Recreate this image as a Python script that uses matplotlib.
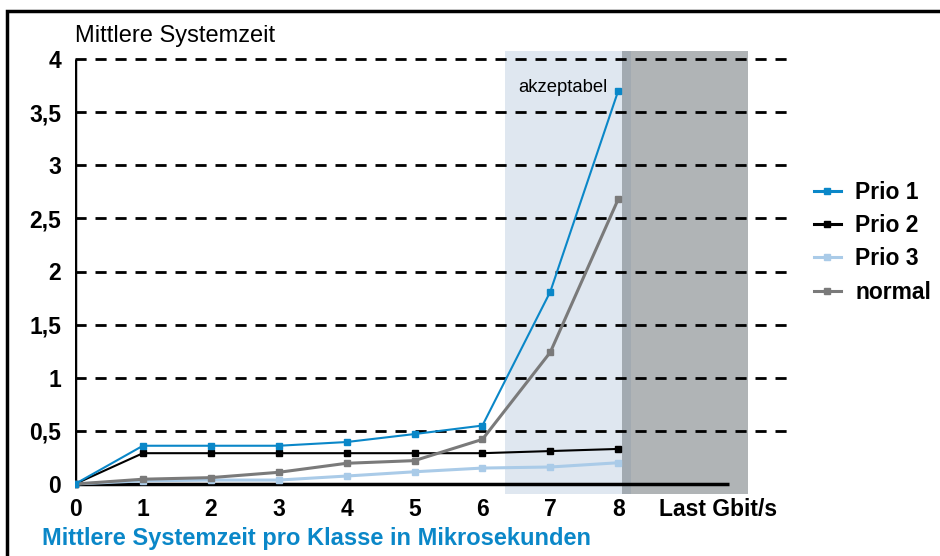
import numpy as np
import matplotlib
matplotlib.use('Agg')
import matplotlib.pyplot as plt
from matplotlib.patches import Rectangle
from matplotlib.lines import Line2D

plt.rcParams['font.family'] = ['Liberation Sans', 'DejaVu Sans']

# load in Gbit/s
last = [0, 1, 2, 3, 4, 5, 6, 7, 8]

# mean system time per class (microseconds)
prio1 = [0, 0.36, 0.36, 0.36, 0.395, 0.47, 0.55, 1.81, 3.70]
prio2 = [0, 0.29, 0.29, 0.29, 0.29, 0.29, 0.29, 0.31, 0.33]
prio3 = [0, 0.03, 0.037, 0.037, 0.075, 0.115, 0.15, 0.16, 0.20]
normal = [0, 0.045, 0.06, 0.11, 0.195, 0.22, 0.42, 1.24, 2.68]

series_names = ['Prio 1', 'Prio 2', 'Prio 3', 'normal']
series_colors = ['#0a87c8', '#000000', '#aacbe8', '#7a7a7a']

yticks = [0, 0.5, 1, 1.5, 2, 2.5, 3, 3.5, 4]
ytick_labels = ['0', '0,5', '1', '1,5', '2', '2,5', '3', '3,5', '4']

# shaded regions (x in Gbit/s)
ok_span = (6.33, 8.05)
bad_span = (8.05, 9.91)
edge_span = (8.05, 8.19)

W, H = 940, 556
fig = plt.figure(figsize=(W / 100, H / 100), dpi=100)

# axes: x=0 at px 75, 67.9 px per unit; y=0 at px 484, y=4 at px 59
x0, ppx = 75, 67.9
y0, y4 = 484, 59
xmax = 10.6
ymin, ymax = -0.12, 4.12
ppy = (y0 - y4) / 4
left = x0 / W
width = xmax * ppx / W
bottom = (H - y0 - (0 - ymin) * ppy) / H
height = (ymax - ymin) * ppy / H
ax = fig.add_axes([left, bottom, width, height])
ax.set_xlim(0, xmax)
ax.set_ylim(ymin, ymax)
for s in ax.spines.values():
    s.set_visible(False)

# shaded regions
ax.fill_between(ok_span, -0.09, 4.08, color='#dfe7f0', lw=0, zorder=0)
ax.fill_between(bad_span, -0.09, 4.08, color='#b0b4b6', lw=0, zorder=0)
ax.fill_between(edge_span, -0.09, 4.08, color='#a2aab1', lw=0, zorder=0)

# dashed gridlines
for yt in yticks[1:]:
    ax.axhline(yt, color='black', lw=2, dashes=(4, 3.2), zorder=1)

# axis lines
ax.plot([0, 0], [0, 4], color='black', lw=2.5, zorder=2, solid_capstyle='butt')
ax.plot([0, 9.63], [0, 0], color='black', lw=2.5, zorder=2, solid_capstyle='butt')

order = [2, 1, 3, 0]
lws = [1.5, 1.5, 2.2, 2.2]
for i in order:
    data = [prio1, prio2, prio3, normal][i]
    ax.plot(last, data, color=series_colors[i], lw=lws[i], marker='s',
            markersize=4.5, zorder=3)

ax.set_yticks(yticks)
ax.set_yticklabels(ytick_labels, fontsize=16.5, fontweight='bold')
ax.set_xticks(last)
ax.set_xticklabels([str(v) for v in last], fontsize=16.5, fontweight='bold')
ax.tick_params(axis='y', length=0, pad=10)
ax.tick_params(axis='x', length=0, pad=1)

ax.text(9.47, -0.24, 'Last Gbit/s', fontsize=16.5, fontweight='bold',
        ha='center', va='center')
ax.text(8.0 - 0.16, 3.735, 'akzeptabel', fontsize=13.3, ha='right', va='center')

fig.text(75 / W, 1 - 36 / H, 'Mittlere Systemzeit', fontsize=17,
         ha='left', va='center')
fig.text(42 / W, 1 - 538 / H, 'Mittlere Systemzeit pro Klasse in Mikrosekunden',
         fontsize=17, fontweight='bold', color='#0a87c8', ha='left', va='center')

# legend
handles = [Line2D([0], [0], color=c, lw=2.2, marker='s', markersize=4)
           for c in series_colors]
fig.legend(handles, series_names, loc='upper left',
           bbox_to_anchor=(793 / W, 1 - 160 / H), frameon=False,
           prop={'size': 16.5, 'weight': 'bold'}, handlelength=1.2,
           handletextpad=0.62, labelspacing=0.45)

# frame (top and left edges visible)
fig.patches.append(Rectangle((7 / W, -0.1), 1.2, 1 - 11 / H + 0.1,
                             transform=fig.transFigure, fill=False,
                             ec='black', lw=2.5))

fig.savefig('out.png', dpi=100)
